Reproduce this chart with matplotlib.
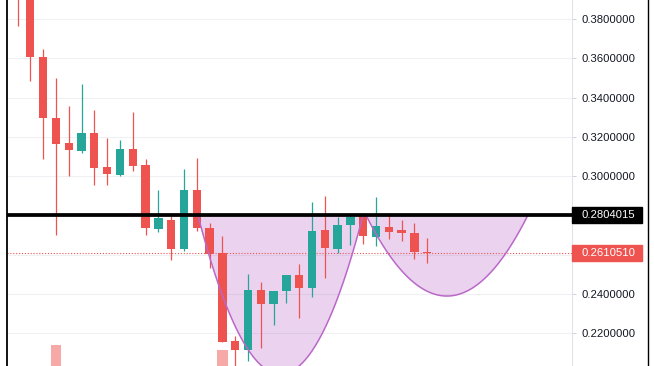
import matplotlib.pyplot as plt
import numpy as np
from matplotlib.lines import Line2D
from matplotlib.patches import Rectangle
from matplotlib.transforms import blended_transform_factory

# OHLC (one candle per period)
opens = [0.4050, 0.3920, 0.3607, 0.3296, 0.3169, 0.3128, 0.3220, 0.3047, 0.3006, 0.3138,
         0.3057, 0.2731, 0.2777, 0.2630, 0.2930, 0.2738, 0.2609, 0.2161, 0.2116, 0.2421,
         0.2350, 0.2416, 0.2497, 0.2431, 0.2726, 0.2630, 0.2752, 0.2798, 0.2691, 0.2742,
         0.2726, 0.2711, 0.2614]
highs = [0.4100, 0.3960, 0.3647, 0.3500, 0.3357, 0.3469, 0.3337, 0.3194, 0.3184, 0.3327,
         0.3088, 0.2930, 0.2798, 0.3037, 0.3093, 0.2762, 0.2696, 0.2187, 0.2502, 0.2462,
         0.2416, 0.2497, 0.2553, 0.2869, 0.2899, 0.2792, 0.2803, 0.2813, 0.2894, 0.2813,
         0.2777, 0.2762, 0.2686]
lows = [0.3764, 0.3485, 0.3088, 0.2701, 0.3001, 0.3118, 0.2955, 0.2955, 0.3001, 0.3027,
        0.2701, 0.2716, 0.2574, 0.2619, 0.2721, 0.2533, 0.2155, 0.2010, 0.2060, 0.2126,
        0.2243, 0.2355, 0.2278, 0.2385, 0.2482, 0.2609, 0.2650, 0.2655, 0.2645, 0.2680,
        0.2670, 0.2579, 0.2558]
closes = [0.3920, 0.3607, 0.3296, 0.3164, 0.3133, 0.3220, 0.3042, 0.3011, 0.3138, 0.3052,
          0.2736, 0.2787, 0.2630, 0.2930, 0.2736, 0.2604, 0.2156, 0.2116, 0.2421, 0.2350,
          0.2416, 0.2497, 0.2431, 0.2721, 0.2635, 0.2752, 0.2792, 0.2696, 0.2747, 0.2716,
          0.2711, 0.2614, 0.2611]

# only the two volume bars that poke into the visible pane
volume_idx = [3, 16]
volume_visible = [5.7, 4.4]

resistance = 0.2804015
last_price = 0.2610510

# cup & handle arcs: (start idx, end idx, bottom price)
cups = [(14.08, 27.0, 0.1993), (27.2, 39.88, 0.2390)]

price_ticks = [0.22, 0.24, 0.26, 0.28, 0.30, 0.32, 0.34, 0.36, 0.38]
date_grid = [4, 16, 25, 34]

UP = "#26a69a"
DOWN = "#ef5350"

fig = plt.figure(figsize=(6.54, 3.66), dpi=100)
ax = fig.add_axes([6.5 / 654, 0, (571.5 - 6.5) / 654, 1])
axv = ax.twinx()
axv.set_zorder(0)
ax.set_zorder(1)
ax.patch.set_visible(False)

# date grid lives under the volume bars
axv.set_xticks(date_grid)
axv.grid(True, axis="x", color="#eef0f3", lw=0.8)
axv.set_axisbelow(True)
axv.bar(volume_idx, volume_visible, width=0.84, color="#f7a9a7", lw=0)
axv.set_ylim(0, 100)
axv.set_yticks([])
axv.tick_params(axis="x", length=0, labelbottom=False)
for s in axv.spines.values():
    s.set_visible(False)

x = np.arange(len(opens))
o = np.array(opens)
c = np.array(closes)
colors = [UP if cc >= oo else DOWN for oo, cc in zip(o, c)]

# cups
for x0, x2, bottom in cups:
    t = np.linspace(0, 1, 200)
    cx = (x0 + x2) / 2
    cy = resistance - 2 * (resistance - bottom)
    bx = (1 - t) ** 2 * x0 + 2 * t * (1 - t) * cx + t ** 2 * x2
    by = (1 - t) ** 2 * resistance + 2 * t * (1 - t) * cy + t ** 2 * resistance
    ax.fill(bx, by, color=(156 / 255, 39 / 255, 176 / 255, 0.2), lw=0, zorder=1)
    ax.plot(bx, by, color="#ba68c8", lw=1.1, zorder=4)

ax.vlines(x, lows, highs, colors=colors, lw=0.9, zorder=3)
body = np.maximum(np.abs(c - o), 0.0005)
ax.bar(x, body, bottom=np.minimum(o, c), width=0.65, color=colors, lw=0, zorder=3)

ax.axhline(resistance, color="black", lw=2.7, zorder=5)
ax.axhline(last_price, color=DOWN, lw=0.8, ls=(0, (1, 1.6)), zorder=2)

ax.set_xlim(-0.86, 43.27)
ax.set_ylim(0.20341, 0.38967)
axv.set_xlim(-0.86, 43.27)

ax.set_xticks([])
ax.set_yticks(price_ticks)
ax.set_yticklabels(["" if p in (0.26, 0.28) else f"{p:.7f}" for p in price_ticks])
ax.grid(True, axis="y", color="#eef0f3", lw=0.8)
ax.set_axisbelow(True)
ax.yaxis.tick_right()
ax.tick_params(axis="y", length=3, width=0.7, color="#d0d3da", pad=4.2,
               labelsize=8.1, labelcolor="#131722")
for lab in ax.get_yticklabels():
    lab.set_family("Liberation Sans")

ax.spines["top"].set_visible(False)
ax.spines["bottom"].set_visible(False)
ax.spines["left"].set_color("black")
ax.spines["left"].set_linewidth(1.3)
ax.spines["right"].set_color("#e0e3eb")
ax.spines["right"].set_linewidth(0.8)

# price labels on the scale
tr = blended_transform_factory(fig.transFigure, ax.transData)
box_h = 16 * (0.38967 - 0.20341) / 366
for level, bg in [(resistance, "black"), (last_price, DOWN)]:
    ax.add_patch(Rectangle((571.5 / 654, level - box_h / 2), 70 / 654, box_h,
                           transform=tr, color=bg, clip_on=False, zorder=10))
    ax.text(581.5 / 654, level, f"{level:.7f}", transform=tr, color="white",
            fontsize=8.1, family="Liberation Sans", va="center", ha="left",
            zorder=11, clip_on=False)

fig.add_artist(Line2D([647.5 / 654, 647.5 / 654], [0, 1], color="black", lw=1.0))

fig.savefig("out.png", dpi=100)
